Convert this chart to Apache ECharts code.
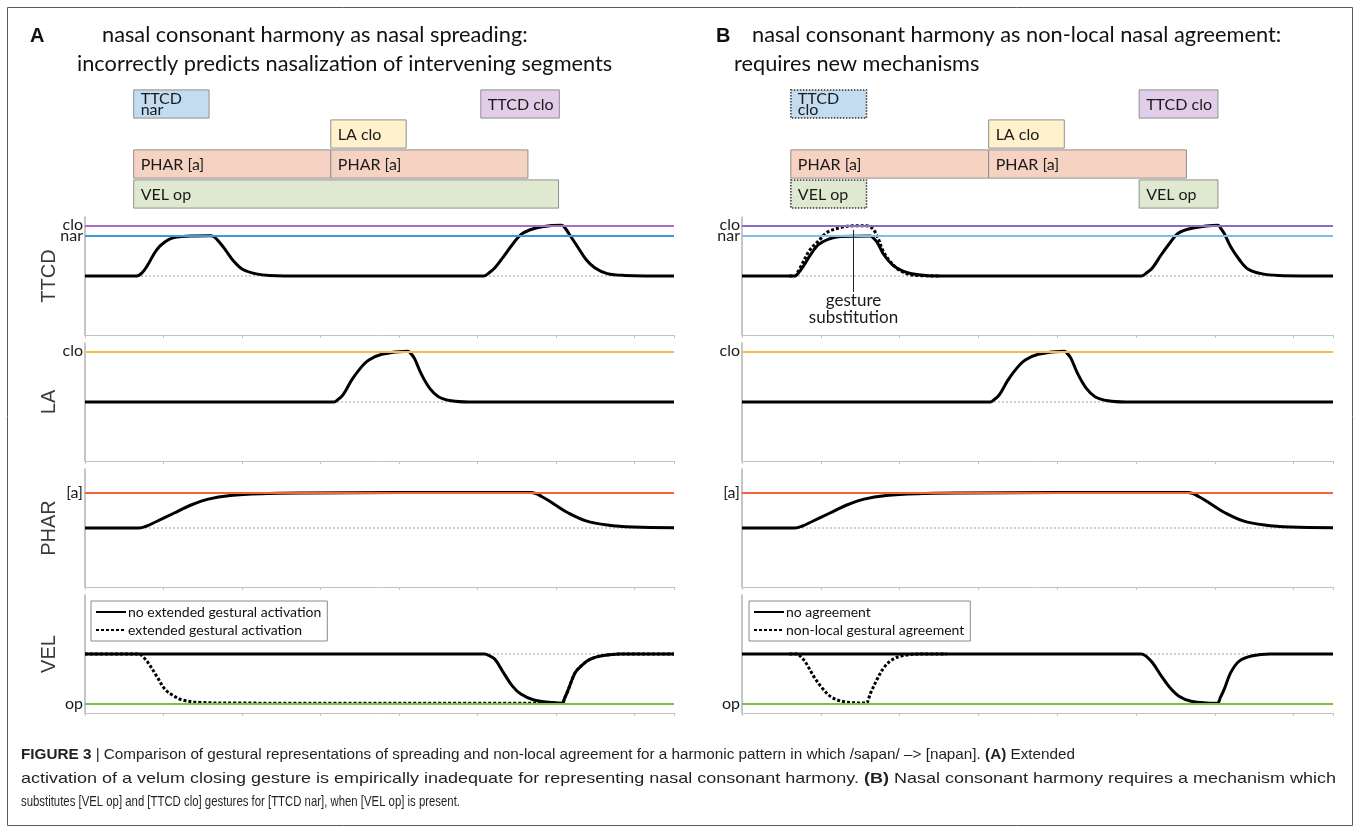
<!DOCTYPE html>
<html><head><meta charset="utf-8">
<script src="https://cdn.jsdelivr.net/npm/echarts@6/dist/echarts.min.js"></script>
<style>html,body{margin:0;padding:0;background:#fff}#c{width:1358px;height:833px}</style>
</head><body><div id="c"></div>
<script>
// ================= DATA =================
const timeMin = 0, timeMax = 750, timeTick = 100;
const rowNames = ['TTCD', 'LA', 'PHAR', 'VEL'];
const neutral = 50;

const ttcdLevelNames = ['clo', 'nar'];
const ttcdLevelValues = [93, 84];
const laLevelNames = ['clo'];
const laLevelValues = [93];
const pharLevelNames = ['[a]'];
const pharLevelValues = [80];
const velLevelNames = ['op'];
const velLevelValues = [8];

// Panel A curves
const ttcdA = [[0,50],[66,50],[73,53],[80,59.5],[91,72],[102,79],[113,82.5],[135,84],[160,84.2],[165,83],[172,78],[179,72],[190,62],[201,55.5],[218,51.8],[235,50.5],[279,50],[508,50],[515,53],[522,57],[533,66.5],[544,76.5],[555,85],[566,89],[582,91.8],[607,93],[612,90],[616,86],[627,75],[638,64],[649,57],[665,52],[687,50.5],[750,50]];
const laA = [[0,50],[317,50],[322,52],[328.5,56],[339.5,68.5],[350.5,78.5],[361.5,85.5],[378,90.5],[411,93],[415,91],[419.5,87],[428,74],[439,61.5],[450,54.5],[466.5,51],[489,50],[750,50]];
const pharA = [[0,50],[69,50],[78,51.5],[91,55.5],[113,62.5],[135,69.5],[157,74.5],[185,77.5],[224,79],[279,79.6],[400,80],[568,80],[582,76.5],[599,69.5],[616,62.5],[638,56],[665,52.5],[698,50.8],[750,50.3]];
const velA_noExt = [[0,50],[509,50],[515,48.5],[522,45.5],[533,34],[544,23],[555,16],[571.5,11],[593.5,9],[607,8.2],[611,13],[615.5,20],[624,34],[632,40],[643,45.5],[660,48.7],[682,50],[750,50]];
const velA_ext = [[0,50],[69,50],[74,47.5],[80,43],[91,31.5],[102,20],[113,14.5],[124,11],[146,9],[196,8.4],[607,8.2],[611,13],[615.5,20],[624,34],[632,40],[643,45.5],[660,48.7],[682,50],[750,50]];

// Panel B curves
const ttcdB = [[0,50],[67,50],[72,53],[78,58.5],[86,67],[97,76.5],[111,81.5],[125,83.5],[163,84],[167,82],[172,78],[180,68],[191,59.5],[205,54],[224,51],[251,50],[507,50],[514,53],[521,57],[532,68],[543,78],[554,86.5],[571,90.5],[604,93],[608,90],[612,86],[620,75],[631,64],[642,56],[659,52],[681,50.5],[750,50]];
const ttcdB_subst = [[60,50],[67,50],[71,53.5],[75,58.5],[86,72],[97.5,80],[108,87],[125,91],[141,92.5],[158,92.5],[166,90],[172,83],[180,70],[191,60],[202,54],[219,50.5],[251,50]];
const laB = [[0,50],[315,50],[320,52],[326.5,56],[337.5,68.5],[348.5,78.5],[359.5,85.5],[376,90.5],[409,93],[413,91],[417.5,87],[426,74],[437,61.5],[448,54.5],[464.5,51],[487,50],[750,50]];
const pharB = [[0,50],[67,50],[76,51.5],[89,55.5],[111,62.5],[133,69.5],[155,74.5],[183,77.5],[222,79],[277,79.6],[400,80],[566,80],[580,76.5],[597,69.5],[614,62.5],[636,56],[663,52.5],[696,50.8],[750,50.3]];
const velB_noAgr = [[0,50],[507,50],[513,48],[521,42.6],[532,31.5],[543,21.5],[554,14.5],[570,10],[603,8.2],[607,13],[612,20.2],[620,34],[631,44],[648,48.5],[670,50],[750,50]];
const velB_agr = [[60,50],[70,50],[75,47.5],[81,42.6],[92,30],[103,20.2],[114,13.2],[130,9.5],[158,8.4],[160.5,12],[163.5,17.4],[171.5,28.6],[180,38.4],[191,45.4],[205,48.7],[229.5,50],[260,50]];

// Gestural scores (activation intervals)
const gestA_rows = ['TTCD', 'TTCD', 'LA', 'PHAR', 'PHAR', 'VEL'];
const gestA_start = [62, 504, 313, 62, 313, 62];
const gestA_end = [158, 604, 409, 313, 564, 603];
const gestA_labels = ['TTCD\nnar', 'TTCD clo', 'LA clo', 'PHAR [a]', 'PHAR [a]', 'VEL op'];

const gestB_rows = ['TTCD', 'TTCD', 'LA', 'PHAR', 'PHAR', 'VEL', 'VEL'];
const gestB_start = [62, 504, 313, 62, 313, 62, 504];
const gestB_end = [158, 604, 409, 313, 564, 158, 604];
const gestB_labels = ['TTCD\nclo', 'TTCD clo', 'LA clo', 'PHAR [a]', 'PHAR [a]', 'VEL op', 'VEL op'];
const gestB_substituted = [true, false, false, false, false, true, false];

const annotX = 141.5, annotArrowFrom = 36.5, annotArrowTo = 89, annotTextY = 22;

// ================= STYLES / LAYOUT =================
const FONT = 'Lato, "Open Sans", sans-serif';
const SANS = '"Liberation Sans", Arial, sans-serif';
const boxFillA = ['#c3dcf0', '#e1cde7', '#fef1cb', '#f6d2c3', '#f6d2c3', '#dfe9cf'];
const boxFillB = ['#c3dcf0', '#e1cde7', '#fef1cb', '#f6d2c3', '#f6d2c3', '#dfe9cf', '#dfe9cf'];
const colA = {clo: '#a76fc0', nar: '#3c98d6', la: '#f5bd45', phar: '#f06634', vel: '#7cbf4a'};
const colB = {clo: '#8a6cc2', nar: '#7cc0e8', la: '#f5bd45', phar: '#f06634', vel: '#7cbf4a'};

const panelTops = [217, 343, 469, 595];
const panelH = 118;
const leftA = 85, widthA = 589, leftB = 742, widthB = 591;

const grids = [], xAxes = [], yAxes = [];
function addPlotGrid(left, width, top, name) {
  const i = grids.length;
  grids.push({left: left, width: width, top: top, height: panelH, containLabel: false, outerBoundsMode: 'none'});
  xAxes.push({type: 'value', gridIndex: i, min: timeMin, max: timeMax, interval: timeTick,
    axisLine: {show: true, onZero: false, lineStyle: {color: '#c2c2c2', width: 1}},
    axisTick: {show: true, length: 3, inside: false, lineStyle: {color: '#c2c2c2'}},
    axisLabel: {show: false}, splitLine: {show: false}});
  yAxes.push({type: 'value', gridIndex: i, min: 0, max: 100,
    axisLine: {show: true, onZero: false, lineStyle: {color: '#b3b3b3', width: 1.5}},
    axisTick: {show: false}, axisLabel: {show: false}, splitLine: {show: false},
    name: name, nameLocation: 'middle', nameGap: 26, nameRotate: 90,
    nameTextStyle: {fontSize: 20, fontFamily: SANS, color: '#3a3a3a'}});
  return i;
}
function addBoxGrid(left, width) {
  const i = grids.length;
  grids.push({left: left, width: width, top: 89, height: 120, containLabel: false, outerBoundsMode: 'none'});
  xAxes.push({type: 'value', gridIndex: i, min: timeMin, max: timeMax, show: false});
  yAxes.push({type: 'category', gridIndex: i, data: rowNames, inverse: true, show: false});
  return i;
}

const gA = panelTops.map((t, k) => addPlotGrid(leftA, widthA, t, rowNames[k]));
const gB = panelTops.map((t, k) => addPlotGrid(leftB, widthB, t, ''));
const bA = addBoxGrid(leftA, widthA);
const bB = addBoxGrid(leftB, widthB);

const series = [];
function baseSeries(gi, names, values, colors) {
  series.push({type: 'line', xAxisIndex: gi, yAxisIndex: gi, silent: true, animation: false, z: 1,
    data: [[timeMin, neutral], [timeMax, neutral]], symbol: 'none',
    lineStyle: {color: '#a0a0a0', width: 1, type: [2, 2]},
    markLine: {silent: true, symbol: ['none', 'none'], animation: false,
      label: {show: true, position: 'start', formatter: '{b}', color: '#1a1a1a', fontSize: 16, fontFamily: FONT, distance: 2},
      data: names.map((n, k) => ({name: n, yAxis: values[k], lineStyle: {color: colors[k], width: 2, type: 'solid'}}))}});
}
function curve(gi, data, name, dotted) {
  series.push({type: 'line', name: name, xAxisIndex: gi, yAxisIndex: gi, data: data, smooth: 0.35,
    symbol: 'none', showSymbol: false, animation: false, z: 3,
    itemStyle: {color: '#000'},
    lineStyle: {color: '#000', width: 3, type: dotted ? [3, 2] : 'solid'}});
}
function boxSeries(gi, rows, starts, ends, labels, fills, dotted) {
  series.push({type: 'custom', xAxisIndex: gi, yAxisIndex: gi, silent: true, animation: false, z: 2,
    data: rows.map((r, i) => [starts[i], ends[i], rowNames.indexOf(r), i]),
    encode: {x: [0, 1], y: 2},
    renderItem: function (params, api) {
      const i = api.value(3);
      const p0 = api.coord([api.value(0), api.value(2)]);
      const p1 = api.coord([api.value(1), api.value(2)]);
      const band = api.size([0, 1])[1];
      const h = band - 1.8;
      const isDot = dotted && dotted[i];
      return {type: 'group', children: [
        {type: 'rect', shape: {x: p0[0], y: p0[1] - h / 2, width: p1[0] - p0[0], height: h},
          style: {fill: fills[i], stroke: isDot ? '#333' : '#8f8f8f', lineWidth: isDot ? 1.5 : 1, lineDash: isDot ? [1.5, 1.5] : null}},
        {type: 'text', x: p0[0] + 7, y: p0[1] + 0.5,
          style: {text: labels[i], fill: '#1a1a1a', font: '16px ' + FONT, verticalAlign: 'middle', lineHeight: 11}}
      ]};
    }});
}

// Panel A
baseSeries(gA[0], ttcdLevelNames, ttcdLevelValues, [colA.clo, colA.nar]);
baseSeries(gA[1], laLevelNames, laLevelValues, [colA.la]);
baseSeries(gA[2], pharLevelNames, pharLevelValues, [colA.phar]);
baseSeries(gA[3], velLevelNames, velLevelValues, [colA.vel]);
curve(gA[0], ttcdA, 'ttcdA', false);
curve(gA[1], laA, 'laA', false);
curve(gA[2], pharA, 'pharA', false);
curve(gA[3], velA_ext, 'extended gestural activation', true);
curve(gA[3], velA_noExt, 'no extended gestural activation', false);
// Panel B
baseSeries(gB[0], ttcdLevelNames, ttcdLevelValues, [colB.clo, colB.nar]);
baseSeries(gB[1], laLevelNames, laLevelValues, [colB.la]);
baseSeries(gB[2], pharLevelNames, pharLevelValues, [colB.phar]);
baseSeries(gB[3], velLevelNames, velLevelValues, [colB.vel]);
curve(gB[0], ttcdB_subst, 'ttcdB_subst', true);
curve(gB[0], ttcdB, 'ttcdB', false);
curve(gB[1], laB, 'laB', false);
curve(gB[2], pharB, 'pharB', false);
curve(gB[3], velB_agr, 'non-local gestural agreement', true);
curve(gB[3], velB_noAgr, 'no agreement', false);
// annotation
series.push({type: 'line', xAxisIndex: gB[0], yAxisIndex: gB[0], data: [], silent: true, animation: false, z: 4,
  markLine: {silent: true, animation: false, symbol: ['none', 'arrow'], symbolSize: [0, 7],
    lineStyle: {color: '#222', width: 1, type: 'solid'}, label: {show: false},
    data: [[{coord: [annotX, annotArrowFrom]}, {coord: [annotX, annotArrowTo]}]]},
  markPoint: {silent: true, animation: false, symbol: 'circle', symbolSize: 1, itemStyle: {color: 'rgba(0,0,0,0)'},
    label: {show: true, position: 'inside', formatter: 'gesture\nsubstitution', color: '#1a1a1a', fontSize: 17, fontFamily: FONT, lineHeight: 16.5},
    data: [{coord: [annotX, annotTextY]}]}});
// gesture boxes
boxSeries(bA, gestA_rows, gestA_start, gestA_end, gestA_labels, boxFillA, null);
boxSeries(bB, gestB_rows, gestB_start, gestB_end, gestB_labels, boxFillB, gestB_substituted);

// ---------- text fitting ----------
const mctx = document.createElement('canvas').getContext('2d');
function mw(txt, font) { mctx.font = font; return mctx.measureText(txt).width; }

const titleA1 = 'nasal consonant harmony as nasal spreading:';
const titleA2 = 'incorrectly predicts nasalization of intervening segments';
const titleB1 = 'nasal consonant harmony as non-local nasal agreement:';
const titleB2 = 'requires new mechanisms';
let titleSize = 20 * 538 / mw(titleA2, '20px ' + FONT);
titleSize = Math.round(titleSize * 4) / 4;

const captionLines = [
  [['FIGURE 3', 1], [' | Comparison of gestural representations of spreading and non-local agreement for a harmonic pattern in which /sapan/ \u2013> [napan]. ', 0], ['(A)', 1], [' Extended', 0]],
  [['activation of a velum closing gesture is empirically inadequate for representing nasal consonant harmony. ', 0], ['(B)', 1], [' Nasal consonant harmony requires a mechanism which', 0]],
  [['substitutes [VEL op] and [TTCD clo] gestures for [TTCD nar], when [VEL op] is present.', 0]]
];
const capSize = 15;
const capWidths = [1054, 1315, 439];
function segWidth(line) { return line.reduce((s, g) => s + mw(g[0], (g[1] ? 'bold ' : '') + capSize + 'px ' + SANS), 0); }
const capScales = captionLines.map((l, k) => capWidths[k] / segWidth(l));
const capY = [755, 778.5, 802];

const graphics = [
  {type: 'rect', shape: {x: 7.5, y: 7.5, width: 1345, height: 818}, style: {fill: 'none', stroke: '#5a5a5a', lineWidth: 1}, silent: true},
  {type: 'text', x: 30, y: 36, style: {text: 'A', font: 'bold 20px ' + SANS, fill: '#111', verticalAlign: 'middle'}},
  {type: 'text', x: 102, y: 35, style: {text: titleA1, font: titleSize + 'px ' + FONT, fill: '#111', verticalAlign: 'middle'}},
  {type: 'text', x: 77, y: 64, style: {text: titleA2, font: titleSize + 'px ' + FONT, fill: '#111', verticalAlign: 'middle'}},
  {type: 'text', x: 716, y: 36, style: {text: 'B', font: 'bold 20px ' + SANS, fill: '#111', verticalAlign: 'middle'}},
  {type: 'text', x: 752, y: 35, style: {text: titleB1, font: titleSize + 'px ' + FONT, fill: '#111', verticalAlign: 'middle'}},
  {type: 'text', x: 734, y: 64, style: {text: titleB2, font: titleSize + 'px ' + FONT, fill: '#111', verticalAlign: 'middle'}}
];
captionLines.forEach((line, k) => {
  const txt = line.map(g => '{' + (g[1] ? 'b' : 'n') + '|' + g[0] + '}').join('');
  graphics.push({type: 'text', x: 21, y: capY[k], scaleX: capScales[k], silent: true,
    style: {text: txt, fill: '#231f20', verticalAlign: 'middle', font: capSize + 'px ' + SANS,
      rich: {b: {fontWeight: 'bold', fontSize: capSize, fontFamily: SANS, fill: '#231f20'}, n: {fontSize: capSize, fontFamily: SANS, fill: '#231f20'}}}});
});

const legendCommon = {orient: 'vertical', selectedMode: false, borderColor: '#8a8a8a', borderWidth: 1, borderRadius: 0,
  padding: [4, 6, 4, 4], itemGap: 4, itemWidth: 30, itemHeight: 14,
  itemStyle: {opacity: 0},
  textStyle: {fontSize: 14, fontFamily: FONT, color: '#111', padding: [0, 0, 0, -3]}};

const option = {
  backgroundColor: '#fff',
  animation: false,
  grid: grids, xAxis: xAxes, yAxis: yAxes,
  legend: [
    Object.assign({}, legendCommon, {left: 91, top: 601, data: ['no extended gestural activation', 'extended gestural activation']}),
    Object.assign({}, legendCommon, {left: 749, top: 601, data: ['no agreement', 'non-local gestural agreement']})
  ],
  series: series,
  graphic: graphics
};
const chart = echarts.init(document.getElementById('c'), null, {renderer: 'canvas'});
chart.setOption(option);
</script></body></html>
